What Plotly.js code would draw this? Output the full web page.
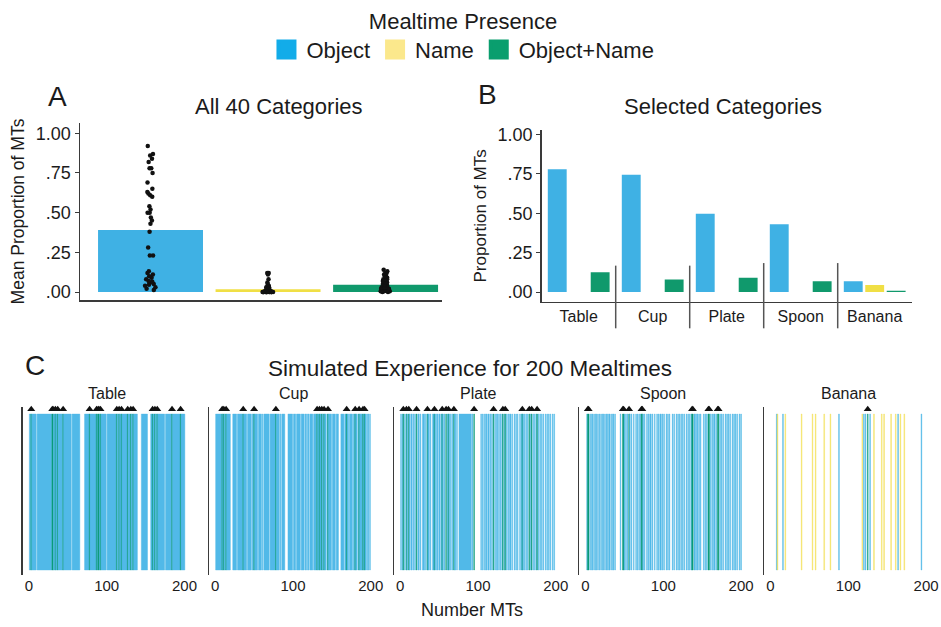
<!DOCTYPE html>
<html><head><meta charset="utf-8">
<script src="https://cdn.plot.ly/plotly-3.0.1.min.js"></script>
<style>html,body{margin:0;padding:0;background:#fff}#chart{width:941px;height:627px}</style>
</head><body><div id="chart"></div>
<script>
// ---------- data ----------
const presenceLabels = ['Object', 'Name', 'Object+Name'];
const presenceColors = ['#3fb1e4', '#f0df45', '#10996c'];
const legendColors = ['#12ace9', '#fbe88c', '#0a9e6e'];

// Panel A: mean proportion of mealtimes across all 40 categories
const meanProportion = [0.39, 0.017, 0.046];
const objectByCategory = [0.92, 0.87, 0.86, 0.84, 0.82, 0.78, 0.78, 0.75, 0.69, 0.65,
  0.63, 0.62, 0.61, 0.60, 0.54, 0.52, 0.50, 0.50, 0.47, 0.45,
  0.43, 0.38, 0.28, 0.23, 0.23, 0.13, 0.12, 0.11, 0.10, 0.09,
  0.08, 0.07, 0.065, 0.06, 0.05, 0.046, 0.04, 0.03, 0.02, 0.013];
const nameByCategory = [0.12, 0.12, 0.11, 0.08, 0.06, 0.05, 0.04, 0.04, 0.03, 0.03,
  0.03, 0.02, 0.02, 0.02, 0.02, 0.015, 0.01, 0.01, 0.01, 0.01,
  0.01, 0.005, 0.005, 0.005, 0.005, 0, 0, 0, 0, 0,
  0, 0, 0, 0, 0, 0, 0, 0, 0, 0];
const objectNameByCategory = [0.14, 0.13, 0.12, 0.12, 0.11, 0.10, 0.10, 0.09, 0.08, 0.08,
  0.07, 0.07, 0.06, 0.06, 0.05, 0.05, 0.05, 0.04, 0.04, 0.04,
  0.03, 0.03, 0.03, 0.03, 0.02, 0.02, 0.02, 0.02, 0.02, 0.01,
  0.01, 0.01, 0.01, 0.01, 0.01, 0.005, 0.005, 0.005, 0, 0];

// Panel B: selected categories
const selectedCategories = ['Table', 'Cup', 'Plate', 'Spoon', 'Banana'];
const selectedObject = [0.78, 0.745, 0.497, 0.43, 0.068];
const selectedName = [0, 0, 0, 0, 0.045];
const selectedObjectName = [0.125, 0.08, 0.09, 0.068, 0.008];

const proportionTickVals = [0, 0.25, 0.5, 0.75, 1];
const proportionTickText = ['.00', '.25', '.50', '.75', '1.00'];

// Panel C: simulated 200 mealtimes, one char per mealtime
// '.' none, 'o' object, 'n' name, 'g' object+name
const simulatedNames = ['Table', 'Cup', 'Plate', 'Spoon', 'Banana'];
const mealtimeTickVals = [0, 100, 200];
const tableMTs = "oogoooooo. oooooooooo ooooooooog googoogooo ooogoooooo oooo.ooooo ooooo..... .oooooogoo oooooogogg ogooooooo. oooooooooo oogoogoogo oooooogooo googooooo. ....oooooo oo....oogo ogoogooooo oooo.ooooo ooogoooooo oooogooooo";
const cupMTs = "oooooooogo googooooo. ..ooooo.oo ooooogoooo .ooooo.oog oooo.oooo. o.ooooooo. ooooooogoo oo.o.oooo. ...oooooo. ooo.ooooo. oooo.oo.oo .oooo.oooo googoogoog oo.ogoooo. oooo.ooo.. .oooo.oogo o.oooo.oog oo.ogoooog ogoo.oo.o.";
const plateMTs = "o.og.o.go. go.oo.o.o. g.oo.o..oo o.o.goo.o. .oogo.oo.o o.ogo.o.g. ogo.o.o.go o.o..ooooo oooooooooo o.o.g..... ...o.o.o.o o.oo.o.o.g .o.oo.o.o. og.og.o.o. oo.o..o.o. o..o.ogo.o .o.o.g.og. o.o.og.o.o .o.o..o.o. o.o..o.o..";
const spoonMTs = ".ogg.o.oo. o.oo.o.o.o .oo.o.oo.o o.o.oo.o.. ....o..ggo .o.o.go.o. .o..o.o.o. oggo.o..o. o.oo.o..o. .o.o.oo.o. o..o.o.o.. .o.o..o.o. o.o.o.o..o .o.o.ogg.o o.oo.o.o.. .o.o.o.gg. o.o.oo.o.g g.o.o.o..o .o.o.o..o. o.o.o..o.o";
const bananaMTs = ".......on. .....o..n. .......... .........n .......... ...n...n.. ........n. ......n... .......o.. .......... .......... .......n.o .o..g..o.. ..n....... ..n..n.... ....n..... n..o..n... .n........ .......... ...o......";
const simulatedMTs = [tableMTs, cupMTs, plateMTs, spoonMTs, bananaMTs];

// ---------- styles ----------
const FONT = 'Liberation Sans, Arial, Helvetica, sans-serif';
const TXT = '#1b1b1b';
const AXC = '#3a3a3a';
const stripeColor = {o: '#3fb2e6', n: '#f2dc3c', g: '#0b9b78'};
const stripeOpacity = {o: 0.9, n: 0.8, g: 1};
const TRI_Y = 1.03;

const traces = [];

// Panel A
traces.push({type: 'bar', x: presenceLabels, y: meanProportion, width: 0.893,
  marker: {color: presenceColors}, xaxis: 'x', yaxis: 'y', showlegend: false, hoverinfo: 'x+y'});
[objectByCategory, nameByCategory, objectNameByCategory].forEach((vals, k) => {
  traces.push({type: 'box', name: presenceLabels[k], y: vals, boxpoints: 'all', jitter: 0.55, pointpos: 0,
    width: 0.2, fillcolor: 'rgba(0,0,0,0)', line: {color: 'rgba(0,0,0,0)', width: 0},
    marker: {color: '#111', size: 4.5}, xaxis: 'x', yaxis: 'y', showlegend: false, hoveron: 'points'});
});

// Panel B
[selectedObject, selectedName, selectedObjectName].forEach((vals, k) => {
  traces.push({type: 'bar', name: presenceLabels[k], x: selectedCategories, y: vals,
    marker: {color: presenceColors[k]}, xaxis: 'x2', yaxis: 'y2', showlegend: false});
});

// Legend entries
presenceLabels.forEach((lab, k) => {
  traces.push({type: 'scatter', mode: 'markers', name: lab, x: [null], y: [null],
    marker: {symbol: 'square', size: 16, color: legendColors[k], line: {color: legendColors[k], width: 4}},
    xaxis: 'x', yaxis: 'y', showlegend: true, hoverinfo: 'skip'});
});

// Panel C: consecutive mealtimes with the same presence are drawn as one bar
simulatedMTs.forEach((str, k) => {
  const s = str.replace(/\s/g, '');
  const xs = [], ys = [], ws = [], cols = [], ops = [], gx = [];
  let i = 0;
  while (i < s.length) {
    const c = s[i];
    let j = i;
    while (j + 1 < s.length && s[j + 1] === c) j++;
    if (c !== '.') {
      xs.push((i + 1 + j + 1) / 2); ws.push(j - i + 1); ys.push(1);
      cols.push(stripeColor[c]); ops.push(stripeOpacity[c]);
      if (c === 'g') for (let m = i; m <= j; m++) gx.push(m + 1);
    }
    i = j + 1;
  }
  const ax = k + 3;
  traces.push({type: 'bar', x: xs, y: ys, width: ws,
    marker: {color: cols, opacity: ops, line: {color: cols, width: 0.4}},
    xaxis: 'x' + ax, yaxis: 'y' + ax, showlegend: false, hoverinfo: 'x'});
  traces.push({type: 'scatter', mode: 'markers', x: gx, y: gx.map(() => TRI_Y), cliponaxis: false,
    marker: {symbol: 'triangle-up', size: 7, color: '#111'},
    xaxis: 'x' + ax, yaxis: 'y' + ax, showlegend: false, hoverinfo: 'x'});
});

// ---------- layout ----------
const W = 941, H = 627;
const px = v => v / W;
const py = v => 1 - v / H;
const baseAxis = {showgrid: false, zeroline: false, fixedrange: true, linecolor: AXC, linewidth: 1.5};

const layout = {
  width: W, height: H, margin: {l: 0, r: 0, t: 0, b: 0},
  paper_bgcolor: '#fff', plot_bgcolor: 'rgba(0,0,0,0)',
  font: {family: FONT, color: TXT, size: 16},
  barmode: 'group', bargap: 0.13, bargroupgap: 0.12,
  showlegend: true,
  legend: {orientation: 'h', x: 0.492, xanchor: 'center', y: 1, yanchor: 'top',
    title: {text: 'Mealtime Presence', side: 'top center', font: {size: 22}},
    font: {size: 22}, itemsizing: 'trace', bgcolor: 'rgba(0,0,0,0)', traceorder: 'normal',
    itemclick: false, itemdoubleclick: false},
  xaxis: Object.assign({}, baseAxis, {domain: [px(80), px(442)], range: [-0.6, 2.48], type: 'category',
    categoryorder: 'array', categoryarray: presenceLabels, showticklabels: false, ticks: '',
    showline: true, anchor: 'y'}),
  yaxis: Object.assign({}, baseAxis, {domain: [py(300), py(123)], range: [-0.0504, 1.065],
    tickvals: proportionTickVals, ticktext: proportionTickText, ticks: 'outside', ticklen: 4, tickcolor: AXC,
    tickfont: {size: 18}, showline: true, anchor: 'x',
    title: {text: 'Mean Proportion of MTs', font: {size: 17.5}, standoff: 6}}),
  xaxis2: Object.assign({}, baseAxis, {domain: [px(541.7), px(911.7)], range: [-0.5, 4.5], type: 'category',
    ticks: '', tickfont: {size: 16}, showline: true, anchor: 'y2'}),
  yaxis2: Object.assign({}, baseAxis, {domain: [py(301.7), py(130)], range: [-0.0616, 1.029],
    tickvals: proportionTickVals, ticktext: proportionTickText, ticks: 'outside', ticklen: 4, tickcolor: AXC,
    tickfont: {size: 18}, showline: true, anchor: 'x2',
    title: {text: 'Proportion of MTs', font: {size: 17}, standoff: 6}}),
  shapes: [],
  annotations: [
    {text: 'A', x: px(57), y: py(97), font: {size: 28}},
    {text: 'B', x: px(487), y: py(94), font: {size: 28}},
    {text: 'C', x: px(35), y: py(365), font: {size: 28}},
    {text: 'All 40 Categories', x: px(279), y: py(107), font: {size: 22}},
    {text: 'Selected Categories', x: px(723), y: py(107), font: {size: 22}},
    {text: 'Simulated Experience for 200 Mealtimes', x: px(470), y: py(368), font: {size: 22.5}},
    {text: 'Number MTs', x: px(472), y: py(610), font: {size: 18}}
  ].map(a => Object.assign({xref: 'paper', yref: 'paper', showarrow: false, xanchor: 'center', yanchor: 'middle'}, a))
};

// category separators in panel B
const sepTops = [0.21, 0.21, 0.225, 0.225];
for (let i = 0; i < selectedCategories.length - 1; i++) {
  layout.shapes.push({type: 'line', xref: 'x2 domain', yref: 'y2 domain',
    x0: (i + 1) / selectedCategories.length, x1: (i + 1) / selectedCategories.length,
    y0: -0.155, y1: sepTops[i], line: {color: '#555', width: 1.5}});
}

const cLefts = [22.7, 209, 394, 579.3, 764.3];
simulatedNames.forEach((nm, k) => {
  const ax = k + 3;
  layout['xaxis' + ax] = Object.assign({}, baseAxis, {domain: [px(cLefts[k]), px(cLefts[k] + 168)],
    range: [-8, 208], tickvals: mealtimeTickVals, ticks: '', showline: false,
    tickfont: {size: 15}, anchor: 'y' + ax});
  layout['yaxis' + ax] = Object.assign({}, baseAxis, {domain: [py(575), py(406.7)], range: [-0.032, 1.047],
    showline: true, showticklabels: false, ticks: '', anchor: 'x' + ax});
  layout.annotations.push({text: nm, xref: 'x' + ax + ' domain', yref: 'paper', x: 0.5, y: py(393),
    showarrow: false, xanchor: 'center', yanchor: 'middle', font: {size: 16}});
});

Plotly.newPlot('chart', traces, layout, {displayModeBar: false, staticPlot: true});
</script>
</body></html>
